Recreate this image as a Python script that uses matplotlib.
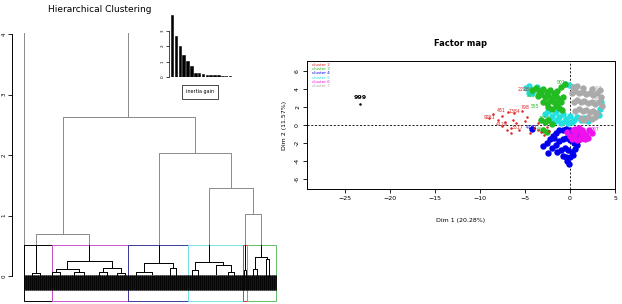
import numpy as np
import matplotlib
matplotlib.use('Agg')
import matplotlib.pyplot as plt
from matplotlib.patches import Rectangle

# ---- dendrogram (leaf positions / heights) ----
upper_left = [2, 41, 14, 137, 187, 223]
upper_right = [106, 173, 67, 209, 231, 239]
upper_hl = [0.0, 0.69, 0.05, 0.21, 0.23, 0.10]
upper_hr = [2.63, 2.03, 0.25, 1.45, 1.02, 0.32]
upper_h = [4.1, 2.63, 0.69, 2.03, 1.45, 1.02]

lower_left = [10, 45, 34, 81, 30, 52, 77, 95, 122, 148, 114, 173, 194, 170, 206, 222, 233, 231, 244]
lower_right = [18, 90, 57, 99, 38, 62, 85, 103, 151, 154, 130, 201, 209, 176, 212, 224, 245, 235, 247]
lower_hl = [0.01, 0.12, 0.06, 0.07, 0.01, 0.02, 0.01, 0.01, 0.07, 0.02, 0.02, 0.10, 0.03, 0.02, 0.01, 0.0, 0.12, 0.02, 0.0]
lower_hr = [0.01, 0.13, 0.07, 0.05, 0.02, 0.01, 0.02, 0.01, 0.13, 0.02, 0.03, 0.18, 0.06, 0.02, 0.02, 0.0, 0.28, 0.02, 0.0]
lower_h = [0.05, 0.25, 0.12, 0.13, 0.06, 0.07, 0.07, 0.05, 0.21, 0.13, 0.07, 0.23, 0.18, 0.10, 0.06, 0.10, 0.32, 0.12, 0.28]

cut_height = 0.51
rect_left = [2, 30, 106, 166, 221, 225]
rect_right = [30, 106, 166, 221, 225, 254]
rect_colors = ['black', '#cc55cc', '#3a3a9a', '#77e6e6', '#cc4444', '#66bb66']

# inertia gain inset
gain = [4.0, 2.63, 2.03, 1.45, 1.02, 0.69, 0.25, 0.23, 0.21, 0.15, 0.13, 0.12, 0.10, 0.08, 0.07, 0.06]

# ---- factor map clusters ----
c2_x = [-9.0, -8.5, -8.0, -7.6, -7.2, -6.9, -6.6, -6.3, -6.0, -5.7, -5.3, -4.8, -4.4, -4.0, -3.6, -3.2, -2.9, -7.5, -7.0, -6.5, -2.6, -2.3, -5.0, -6.2, -3.5]
c2_y = [0.8, 1.2, 0.5, 1.0, 0.3, 1.4, -0.3, 0.6, 0.2, -0.5, 1.5, 0.9, -0.9, -0.3, -0.6, -0.8, -1.1, -0.1, -0.6, -0.9, -0.2, -0.7, 0.4, 1.3, 0.2]
c3_x = [-4.2, -3.8, -3.4, -3.0, -2.6, -2.2, -1.8, -1.4, -1.0, -0.6, -3.6, -3.2, -2.8, -2.4, -2.0, -1.6, -1.2, -0.8,
        -3.0, -2.6, -2.2, -1.8, -1.4, -1.0, -2.4, -2.0, -1.6, -1.2, -0.9, -3.2, -2.8, -2.4, -2.0, -3.0, -2.6]
c3_y = [3.9, 4.1, 3.8, 4.0, 3.7, 3.9, 3.6, 3.8, 4.2, 4.5, 3.2, 3.4, 3.1, 3.3, 3.0, 3.2, 2.9, 3.1,
        2.6, 2.4, 2.7, 2.5, 2.3, 2.6, 2.0, 1.8, 2.1, 1.9, 1.7, 0.6, 0.3, 0.5, 0.1, -0.5, -0.8]
c4_x = [-3.0, -2.6, -2.2, -1.9, -1.5, -1.2, -0.8, -0.4, 0.0, 0.4, 0.8, 1.1, -2.0, -1.6, -1.2, -0.8, -0.4, 0.0,
        0.4, 0.8, -1.4, -1.0, -0.6, -0.2, 0.2, 0.6, -0.8, -0.4, 0.0, 0.3, -0.3, -0.1, -4.2, -2.4, -1.8, 0.9]
c4_y = [-2.3, -2.0, -1.6, -1.2, -0.9, -0.6, -0.5, -0.4, -0.6, -0.8, -1.0, -1.3, -2.6, -2.2, -1.8, -1.6, -1.4, -1.7,
        -2.0, -2.2, -3.0, -2.8, -2.6, -2.8, -3.0, -2.7, -3.4, -3.6, -3.5, -3.3, -4.0, -4.3, -0.4, -3.1, -1.4, -1.7]
c5_x = [-4.9, -4.5, -4.1, -3.7, -3.3, -4.6, -4.2, -2.8, -2.4, -2.0, -1.6, -1.2, -0.8, -0.4, 0.0, 0.4, 0.8,
        1.2, 1.6, 2.0, -2.2, -1.8, -1.4, -1.0, -0.6, -0.2, 0.2, 3.3, 3.5, 3.2, -0.5, -0.1, 0.3]
c5_y = [4.1, 4.3, 3.9, 4.2, 3.8, 3.6, 3.5, 1.2, 1.5, 1.0, 1.4, 0.9, 1.2, 0.7, 1.0, 0.6, 0.9,
        0.5, 0.8, 0.4, 0.6, 0.3, 0.5, 0.2, 0.4, 0.2, 0.3, 1.8, 2.6, 1.1, 4.5, 4.4, 4.2]
c6_x = [-0.3, 0.0, 0.3, 0.6, 0.9, 1.2, 1.5, 1.8, 2.1, 2.4, 0.2, 0.5, 0.8, 1.1, 1.4, 1.7, 0.6, 1.0, 1.3, 2.0]
c6_y = [-0.8, -1.2, -0.6, -1.0, -0.7, -1.2, -0.8, -1.1, -0.6, -0.9, -1.6, -1.4, -1.7, -1.5, -1.4, -1.6, -0.4, -0.3, -0.5, -1.4]
c7_x = [0.2, 0.6, 1.0, 1.4, 1.8, 2.2, 2.6, 3.0, 3.4, 0.4, 0.8, 1.2, 1.6, 2.0, 2.4, 2.8, 3.2, 3.6,
        0.6, 1.0, 1.4, 1.8, 2.2, 2.6, 3.0, 1.2, 1.6, 2.0, 2.4, 2.8, 0.3, 0.8, 1.5, 2.5, 3.3]
c7_y = [3.6, 3.8, 3.5, 3.7, 3.4, 3.6, 3.3, 3.5, 3.1, 2.6, 2.8, 2.5, 2.7, 2.4, 2.6, 2.3, 2.5, 2.1,
        1.6, 1.8, 1.5, 1.7, 1.4, 1.6, 1.3, 0.8, 0.6, 0.9, 0.7, 0.9, 4.2, 4.3, 4.1, 4.0, 3.9]
c1_x = [-23.3]
c1_y = [2.3]

lab_x = [-8.9, -7.6, -6.2, -5.0, -7.6, -5.8, -5.1, -3.9, -4.1, -1.0, -2.9, -3.2, -2.0, 2.9, 3.3, 2.8, -4.3, -23.3]
lab_y = [0.8, 1.6, 1.5, 1.9, 0.1, -0.3, 3.9, 2.1, 3.3, 4.7, 0.7, -0.5, 2.6, 4.1, 2.8, -0.5, -0.3, 3.1]
lab_txt = ['9251', '481', '1384', '798', '4129', '3317', '2228', '555', '2257', '901', '1558', '666', '3021',
           '4907', '1617', '997', '4161', '999']
lab_cluster = [2, 2, 2, 2, 2, 2, 2, 3, 3, 3, 3, 3, 3, 7, 7, 6, 4, 1]

palette = {1: 'black', 2: '#dd2222', 3: '#22bb22', 4: '#0000ee', 5: '#22e0e0', 6: '#ee11ee', 7: '#aaaaaa'}
legend_labels = ['cluster 2', 'cluster 3', 'cluster 4', 'cluster 5', 'cluster 6', 'cluster 7']

W, H = 622, 304
fig = plt.figure(figsize=(W / 100, H / 100), dpi=100)

# ---------------- dendrogram ----------------
ax = fig.add_axes([12 / W, 0, 268 / W, 271 / H])
ax.set_xlim(-10, 258)
ax.set_ylim(-0.463, 4.02)

clip_low = Rectangle((-50, -1), 400, 1 + cut_height, transform=ax.transData)
for xl, xr, hl, hr, h in zip(upper_left + lower_left, upper_right + lower_right,
                             upper_hl + lower_hl, upper_hr + lower_hr, upper_h + lower_h):
    ax.plot([xl, xl, xr, xr], [hl, h, h, hr], color='#8a8a8a', lw=0.7)
    ln, = ax.plot([xl, xl, xr, xr], [hl, h, h, hr], color='black', lw=0.7)
    ln.set_clip_path(clip_low)

# leaves and their (unreadable) labels
leaves = np.arange(rect_left[0], rect_right[-1] + 0.01, 0.4)
ax.vlines(leaves, -0.23, 0.015, color='black', lw=0.5)

for l, r, c in zip(rect_left, rect_right, rect_colors):
    ax.add_patch(Rectangle((l, -0.42), r - l, 0.42 + cut_height, fill=False, edgecolor=c, lw=0.7))

for s in ['top', 'right', 'bottom']:
    ax.spines[s].set_visible(False)
ax.spines['left'].set_bounds(0, 4)
ax.spines['left'].set_linewidth(0.7)
ax.set_xticks([])
ax.set_yticks([0, 1, 2, 3, 4])
ax.set_yticklabels(['0', '1', '2', '3', '4'], rotation=90, va='center')
ax.tick_params(axis='y', labelsize=4, length=3, width=0.6, pad=1)
fig.text(100 / W, 1 - 9 / H, 'Hierarchical Clustering', ha='center', va='center', fontsize=6.5)

# inertia gain inset
axi = fig.add_axes([169 / W, 1 - 77 / H, 63 / W, 64 / H])
axi.bar(np.arange(len(gain)), gain, width=0.65, color='black', edgecolor='black', lw=0.4)
axi.set_xlim(-0.8, 15.5)
axi.set_ylim(0, 4.15)
for s in ['top', 'right', 'bottom']:
    axi.spines[s].set_visible(False)
axi.spines['left'].set_bounds(0, 3)
axi.spines['left'].set_linewidth(0.5)
axi.set_xticks([])
axi.set_yticks([0, 1, 2, 3])
axi.set_yticklabels(['0', '1', '2', '3'], rotation=90, va='center')
axi.tick_params(axis='y', labelsize=3, length=2, width=0.5, pad=1)
axi.patch.set_alpha(0)
fig.text(200 / W, 1 - 92 / H, 'inertia gain', ha='center', va='center', fontsize=3.5,
         bbox=dict(boxstyle='square,pad=0.9', fc='white', ec='black', lw=0.5))

# ---------------- factor map ----------------
axf = fig.add_axes([307 / W, 1 - 189 / H, 308 / W, 128 / H])
axf.set_xlim(-29.2, 5.0)
axf.set_ylim(-7.1, 7.1)
axf.axhline(0, color='black', ls='--', lw=0.6, dashes=(2.5, 2))
axf.axvline(0, color='black', ls='--', lw=0.6, dashes=(2.5, 2))

for k, xs, ys in [(5, c5_x, c5_y), (7, c7_x, c7_y), (3, c3_x, c3_y), (4, c4_x, c4_y),
                  (6, c6_x, c6_y), (2, c2_x, c2_y), (1, c1_x, c1_y)]:
    axf.plot(xs, ys, 'o', ms=4.6 if k not in (1, 2) else 1.8, color=palette[k], mew=0)

for x, y, t, k in zip(lab_x, lab_y, lab_txt, lab_cluster):
    axf.text(x, y, t, color=palette[k], fontsize=3.3 if k != 1 else 4.5, ha='center', va='center',
             fontweight='bold' if k == 1 else 'normal')

handles = [plt.Line2D([], [], color=palette[k], lw=0) for k in range(2, 8)]
leg = axf.legend(handles, legend_labels, loc='upper left', fontsize=3, frameon=False,
                 handlelength=0, handletextpad=0, labelspacing=0.05, borderaxespad=0.1,
                 bbox_to_anchor=(0.01, 1.0))
for txt, k in zip(leg.get_texts(), range(2, 8)):
    txt.set_color(palette[k])

axf.set_xticks([-25, -20, -15, -10, -5, 0, 5])
axf.set_yticks([-6, -4, -2, 0, 2, 4, 6])
axf.set_yticklabels(['-6', '-4', '-2', '0', '2', '4', '6'], rotation=90, va='center')
axf.tick_params(labelsize=4.5, length=3, width=0.6, pad=2)
for s in axf.spines.values():
    s.set_linewidth(0.7)
axf.set_title('Factor map', fontsize=6, fontweight='bold', pad=11)
axf.set_xlabel('Dim 1 (20.28%)', fontsize=4.5, labelpad=12)
axf.set_ylabel('Dim 2 (11.57%)', fontsize=4.5, labelpad=6)

fig.savefig('out.png', dpi=100)
